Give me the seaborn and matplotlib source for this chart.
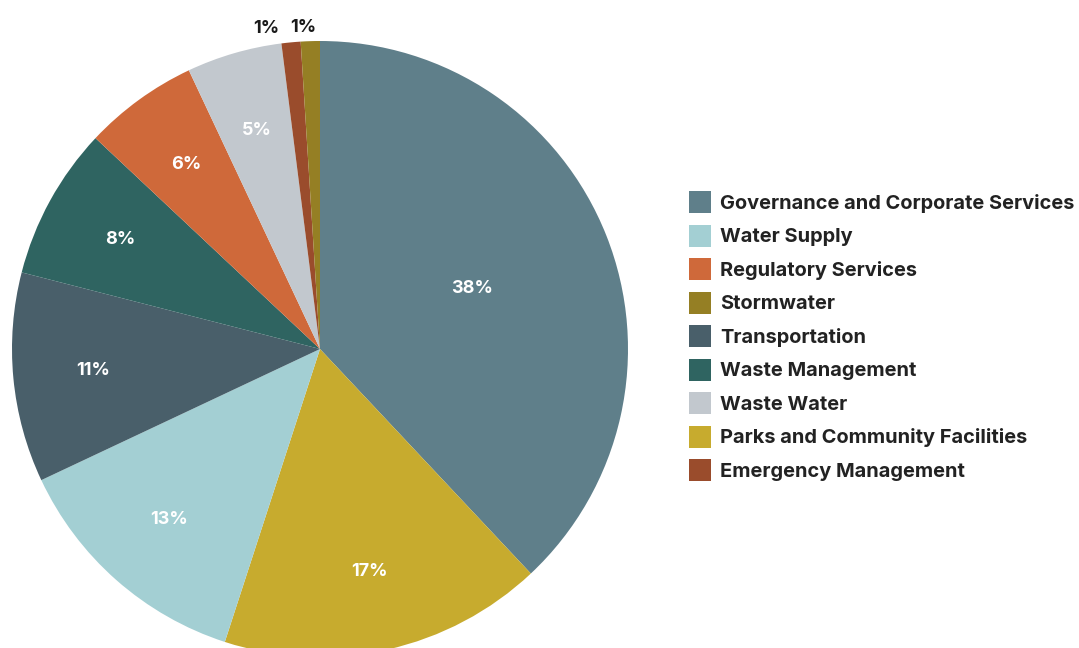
import matplotlib
matplotlib.use("Agg")
import matplotlib.pyplot as plt
import matplotlib.patches as mpatches
import numpy as np
import seaborn as sns

# Budget share by service area (pie order, clockwise from 12 o'clock)
categories = [
    "Governance and Corporate Services",
    "Parks and Community Facilities",
    "Water Supply",
    "Transportation",
    "Waste Management",
    "Regulatory Services",
    "Waste Water",
    "Emergency Management",
    "Stormwater",
]
shares = [38, 17, 13, 11, 8, 6, 5, 1, 1]

# Legend order
legend_order = [
    "Governance and Corporate Services",
    "Water Supply",
    "Regulatory Services",
    "Stormwater",
    "Transportation",
    "Waste Management",
    "Waste Water",
    "Parks and Community Facilities",
    "Emergency Management",
]

palette = {
    "Governance and Corporate Services": "#5F7F8A",
    "Water Supply": "#A3CFD3",
    "Regulatory Services": "#CF693A",
    "Stormwater": "#957F24",
    "Transportation": "#495F6A",
    "Waste Management": "#2F6461",
    "Waste Water": "#C2C8CE",
    "Parks and Community Facilities": "#C7AB2E",
    "Emergency Management": "#9A4C2C",
}

sns.set_theme(style="white")
FONT = ["Inter", "DejaVu Sans"]
plt.rcParams["font.family"] = FONT

W, H = 1079, 648
fig = plt.figure(figsize=(W / 100, H / 100), dpi=100)
fig.patch.set_facecolor("white")

cx, cy, r = 320, 349, 308
ax = fig.add_axes([(cx - r) / W, (H - cy - r) / H, 2 * r / W, 2 * r / H])

colors = [palette[c] for c in categories]
wedges, _texts, autotexts = ax.pie(
    shares,
    colors=colors,
    startangle=90,
    counterclock=False,
    autopct=lambda p: f"{p:.0f}%",
    pctdistance=0.74,
    wedgeprops=dict(linewidth=0),
    textprops=dict(color="white", fontsize=13, fontweight="bold"),
)
ax.set_xlim(-1, 1)
ax.set_ylim(-1, 1)
ax.set_aspect("equal")
ax.axis("off")

# Large slice label sits closer to the centre; tiny slices get outside labels
theta = np.cumsum([0] + shares)
for i, (t, v) in enumerate(zip(autotexts, shares)):
    mid = np.deg2rad(90 - (theta[i] + theta[i + 1]) / 2 / 100 * 360)
    if i == 0:
        t.set_position((0.53 * np.cos(mid), 0.53 * np.sin(mid)))
    elif v <= 1:
        d = 1.045
        x, y = d * np.cos(mid), d * np.sin(mid)
        shift = -0.075 if categories[i] == "Emergency Management" else -0.02
        t.set_position((x + shift, y))
        t.set_color("#1a1a1a")
        t.set_va("center")

fs = 14.4
px = fs * 100 / 72
hbox = 22 / px
hh = (hbox - 0.245) / 0.65
handles = [mpatches.Patch(facecolor=palette[c], edgecolor="none") for c in legend_order]
leg = fig.legend(
    handles,
    legend_order,
    loc="center left",
    bbox_to_anchor=(689 / W, (H - 336) / H),
    frameon=False,
    borderpad=0,
    borderaxespad=0,
    handlelength=hbox,
    handleheight=hh,
    handletextpad=9 / px,
    labelspacing=0.575,
    prop=dict(family=FONT, weight="bold", size=fs),
    labelcolor="#222222",
)

fig.savefig("out.png", dpi=100, facecolor="white")
